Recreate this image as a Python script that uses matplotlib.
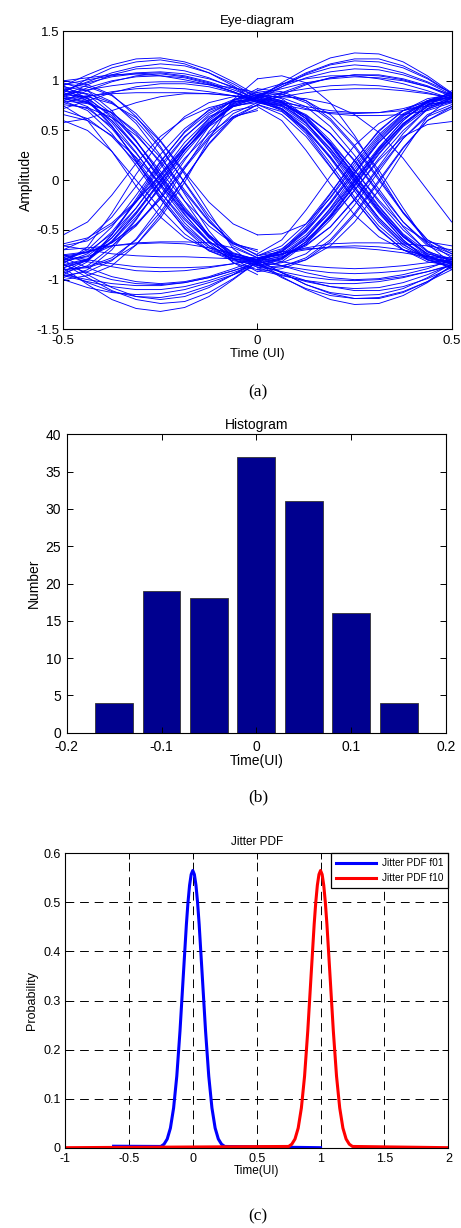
import numpy as np
import matplotlib
matplotlib.use('Agg')
import matplotlib.pyplot as plt

plt.rcParams['font.family'] = ['Liberation Sans', 'DejaVu Sans']

#--------------------------------------#
# (a) eye diagram, traces, 9 samples per half UI
t_left = [-0.5, -0.4375, -0.375, -0.3125, -0.25, -0.1875, -0.125, -0.0625, 0.0]
t_right = [0.0, 0.0625, 0.125, 0.1875, 0.25, 0.3125, 0.375, 0.4375, 0.5]

left_falling = [
    [0.85, 0.79, 0.60, 0.34, 0.03, -0.29, -0.55, -0.74, -0.80],
    [0.95, 0.82, 0.55, 0.19, -0.18, -0.49, -0.71, -0.81, -0.85],
    [0.80, 0.77, 0.68, 0.49, 0.23, -0.10, -0.41, -0.64, -0.75],
    [0.90, 0.83, 0.63, 0.34, 0.00, -0.34, -0.63, -0.83, -0.90],
    [0.70, 0.62, 0.44, 0.18, -0.12, -0.40, -0.62, -0.76, -0.80],
    [1.00, 0.96, 0.86, 0.64, 0.34, -0.03, -0.39, -0.66, -0.78],
    [0.60, 0.50, 0.29, 0.00, -0.29, -0.54, -0.71, -0.79, -0.82],
    [0.88, 0.82, 0.65, 0.39, 0.09, -0.21, -0.46, -0.64, -0.70],
    [0.82, 0.78, 0.68, 0.47, 0.17, -0.21, -0.56, -0.83, -0.95],
    [0.92, 0.80, 0.54, 0.20, -0.16, -0.46, -0.66, -0.77, -0.80],
    [0.78, 0.72, 0.54, 0.27, -0.04, -0.35, -0.61, -0.79, -0.85],
    [0.97, 0.94, 0.85, 0.67, 0.40, 0.08, -0.22, -0.44, -0.55],
    [0.86, 0.84, 0.77, 0.63, 0.39, 0.06, -0.32, -0.69, -0.88],
    [0.75, 0.60, 0.29, -0.06, -0.37, -0.58, -0.70, -0.77, -0.78],
    [0.84, 0.78, 0.60, 0.33, 0.01, -0.31, -0.57, -0.76, -0.82],
    [0.94, 0.90, 0.79, 0.57, 0.25, -0.14, -0.51, -0.79, -0.92],
    [0.88, 0.80, 0.58, 0.28, -0.06, -0.38, -0.62, -0.77, -0.82],
    [0.76, 0.73, 0.63, 0.45, 0.19, -0.12, -0.42, -0.63, -0.72],
    [0.98, 0.90, 0.70, 0.40, 0.05, -0.30, -0.58, -0.76, -0.84],
    [0.83, 0.74, 0.52, 0.22, -0.12, -0.43, -0.66, -0.80, -0.86],
    [0.90, 0.87, 0.78, 0.60, 0.32, -0.02, -0.36, -0.62, -0.76],
    [0.66, 0.60, 0.45, 0.23, -0.04, -0.32, -0.56, -0.73, -0.80],
    [0.93, 0.86, 0.67, 0.39, 0.06, -0.27, -0.55, -0.75, -0.83],
    [0.80, 0.70, 0.47, 0.15, -0.19, -0.48, -0.68, -0.79, -0.83],
]
left_rising = [
    [-0.82, -0.76, -0.58, -0.32, -0.01, 0.30, 0.56, 0.74, 0.80],
    [-0.95, -0.82, -0.55, -0.19, 0.18, 0.49, 0.71, 0.81, 0.85],
    [-0.75, -0.72, -0.63, -0.44, -0.18, 0.14, 0.44, 0.67, 0.78],
    [-0.88, -0.81, -0.62, -0.33, 0.00, 0.33, 0.62, 0.81, 0.88],
    [-0.55, -0.42, -0.15, 0.17, 0.44, 0.62, 0.73, 0.79, 0.80],
    [-1.00, -0.96, -0.86, -0.65, -0.35, 0.02, 0.37, 0.64, 0.76],
    [-0.70, -0.59, -0.37, -0.06, 0.26, 0.52, 0.70, 0.79, 0.82],
    [-0.85, -0.79, -0.62, -0.37, -0.08, 0.22, 0.47, 0.64, 0.70],
    [-0.80, -0.77, -0.66, -0.46, -0.16, 0.20, 0.54, 0.80, 0.92],
    [-0.92, -0.80, -0.55, -0.21, 0.15, 0.44, 0.64, 0.75, 0.78],
    [-0.78, -0.72, -0.54, -0.28, 0.03, 0.34, 0.60, 0.78, 0.84],
    [-0.90, -0.88, -0.80, -0.65, -0.38, -0.02, 0.41, 0.81, 1.02],
    [-0.84, -0.67, -0.33, 0.06, 0.40, 0.64, 0.78, 0.84, 0.86],
    [-0.66, -0.61, -0.45, -0.22, 0.05, 0.31, 0.54, 0.70, 0.75],
    [-0.86, -0.80, -0.61, -0.34, -0.02, 0.30, 0.57, 0.75, 0.82],
    [-0.96, -0.92, -0.81, -0.59, -0.27, 0.12, 0.49, 0.77, 0.90],
    [-0.88, -0.80, -0.58, -0.28, 0.06, 0.38, 0.62, 0.77, 0.82],
    [-0.76, -0.73, -0.63, -0.45, -0.19, 0.12, 0.42, 0.63, 0.72],
    [-0.98, -0.90, -0.70, -0.40, -0.05, 0.30, 0.58, 0.76, 0.84],
    [-0.83, -0.74, -0.52, -0.22, 0.12, 0.43, 0.66, 0.80, 0.86],
    [-0.90, -0.87, -0.78, -0.60, -0.32, 0.02, 0.36, 0.62, 0.76],
    [-0.64, -0.58, -0.43, -0.21, 0.06, 0.34, 0.58, 0.74, 0.80],
    [-0.93, -0.86, -0.67, -0.39, -0.06, 0.27, 0.55, 0.75, 0.83],
    [-0.80, -0.70, -0.47, -0.15, 0.19, 0.48, 0.68, 0.79, 0.83],
]
left_high = [
    [0.95, 1.06, 1.16, 1.22, 1.23, 1.19, 1.11, 0.99, 0.85],
    [0.85, 0.96, 1.06, 1.12, 1.13, 1.10, 1.03, 0.93, 0.80],
    [0.90, 0.98, 1.04, 1.07, 1.08, 1.05, 0.99, 0.91, 0.82],
    [0.80, 0.90, 0.99, 1.05, 1.07, 1.04, 0.98, 0.89, 0.78],
    [0.82, 0.85, 0.87, 0.88, 0.88, 0.88, 0.87, 0.85, 0.82],
    [1.00, 1.03, 1.06, 1.07, 1.05, 1.01, 0.96, 0.89, 0.80],
    [0.86, 0.91, 0.95, 0.98, 0.99, 0.99, 0.96, 0.93, 0.88],
    [0.58, 0.62, 0.70, 0.78, 0.84, 0.87, 0.87, 0.85, 0.80],
    [0.88, 1.02, 1.13, 1.19, 1.21, 1.17, 1.08, 0.95, 0.79],
    [0.84, 0.93, 1.00, 1.04, 1.05, 1.03, 0.97, 0.89, 0.80],
    [0.90, 0.99, 1.08, 1.14, 1.17, 1.15, 1.08, 0.97, 0.83],
    [0.78, 0.84, 0.89, 0.92, 0.93, 0.92, 0.89, 0.85, 0.80],
    [0.96, 1.01, 1.05, 1.08, 1.09, 1.07, 1.02, 0.94, 0.84],
    [0.72, 0.80, 0.88, 0.94, 0.97, 0.97, 0.94, 0.88, 0.80],
]
left_low = [
    [-0.88, -1.05, -1.20, -1.29, -1.32, -1.28, -1.17, -1.00, -0.82],
    [-0.80, -0.95, -1.08, -1.17, -1.20, -1.17, -1.08, -0.95, -0.80],
    [-0.92, -1.03, -1.12, -1.17, -1.18, -1.14, -1.06, -0.95, -0.83],
    [-0.78, -0.88, -0.97, -1.02, -1.04, -1.02, -0.97, -0.89, -0.80],
    [-0.80, -0.72, -0.66, -0.63, -0.62, -0.62, -0.63, -0.68, -0.78],
    [-0.70, -0.68, -0.66, -0.64, -0.63, -0.64, -0.68, -0.74, -0.80],
    [-0.95, -1.00, -1.04, -1.06, -1.06, -1.03, -0.98, -0.91, -0.84],
    [-0.85, -0.93, -1.00, -1.04, -1.05, -1.03, -0.98, -0.91, -0.82],
    [-0.75, -0.80, -0.84, -0.87, -0.88, -0.88, -0.87, -0.84, -0.80],
    [-1.00, -1.08, -1.13, -1.15, -1.14, -1.10, -1.03, -0.95, -0.86],
    [-0.84, -0.98, -1.11, -1.20, -1.24, -1.22, -1.13, -0.99, -0.82],
    [-0.76, -0.82, -0.87, -0.91, -0.92, -0.91, -0.88, -0.84, -0.79],
    [-0.96, -1.02, -1.07, -1.10, -1.10, -1.07, -1.01, -0.93, -0.84],
    [-0.66, -0.70, -0.74, -0.76, -0.77, -0.77, -0.78, -0.79, -0.80],
]
right_falling = [
    [0.82, 0.76, 0.58, 0.32, 0.01, -0.30, -0.56, -0.74, -0.80],
    [0.80, 0.70, 0.47, 0.14, -0.20, -0.50, -0.70, -0.80, -0.84],
    [0.86, 0.83, 0.74, 0.54, 0.25, -0.09, -0.42, -0.66, -0.76],
    [0.78, 0.72, 0.55, 0.29, -0.02, -0.33, -0.60, -0.80, -0.88],
    [1.02, 1.05, 0.98, 0.78, 0.45, 0.06, -0.33, -0.62, -0.78],
    [0.84, 0.79, 0.64, 0.40, 0.10, -0.22, -0.50, -0.71, -0.82],
    [0.76, 0.66, 0.44, 0.13, -0.20, -0.49, -0.70, -0.82, -0.86],
    [0.90, 0.87, 0.78, 0.60, 0.33, 0.00, -0.33, -0.60, -0.72],
    [0.80, 0.74, 0.57, 0.31, 0.00, -0.31, -0.57, -0.74, -0.80],
    [0.88, 0.86, 0.80, 0.66, 0.42, 0.10, -0.28, -0.64, -0.84],
    [0.74, 0.60, 0.30, -0.04, -0.35, -0.57, -0.70, -0.77, -0.78],
    [0.83, 0.78, 0.62, 0.36, 0.05, -0.27, -0.55, -0.75, -0.90],
    [0.80, 0.75, 0.60, 0.38, 0.10, -0.20, -0.46, -0.62, -0.66],
    [0.86, 0.80, 0.62, 0.35, 0.02, -0.32, -0.60, -0.80, -0.88],
    [0.81, 0.77, 0.66, 0.47, 0.19, -0.14, -0.47, -0.72, -0.84],
    [0.79, 0.71, 0.51, 0.22, -0.11, -0.42, -0.65, -0.78, -0.82],
    [0.84, 0.84, 0.82, 0.77, 0.66, 0.48, 0.22, -0.10, -0.42],
    [0.86, 0.79, 0.58, 0.28, -0.06, -0.38, -0.62, -0.78, -0.84],
    [0.78, 0.75, 0.65, 0.47, 0.20, -0.12, -0.42, -0.64, -0.74],
    [0.80, 0.72, 0.52, 0.24, -0.08, -0.40, -0.64, -0.80, -0.86],
    [0.84, 0.78, 0.62, 0.37, 0.06, -0.26, -0.54, -0.72, -0.79],
    [0.92, 0.89, 0.80, 0.62, 0.35, 0.02, -0.32, -0.60, -0.74],
    [0.76, 0.69, 0.50, 0.23, -0.08, -0.38, -0.62, -0.76, -0.80],
    [0.88, 0.82, 0.64, 0.37, 0.04, -0.29, -0.57, -0.76, -0.85],
    [0.82, 0.72, 0.49, 0.17, -0.17, -0.46, -0.67, -0.79, -0.83],
]
right_rising = [
    [-0.82, -0.76, -0.58, -0.32, -0.01, 0.30, 0.56, 0.74, 0.80],
    [-0.55, -0.54, -0.44, -0.18, 0.14, 0.44, 0.66, 0.79, 0.84],
    [-0.86, -0.83, -0.74, -0.54, -0.25, 0.09, 0.42, 0.66, 0.76],
    [-0.80, -0.70, -0.47, -0.14, 0.20, 0.50, 0.70, 0.80, 0.84],
    [-0.78, -0.72, -0.55, -0.29, 0.02, 0.33, 0.60, 0.80, 0.88],
    [-0.90, -0.87, -0.78, -0.60, -0.33, 0.00, 0.33, 0.60, 0.72],
    [-0.76, -0.66, -0.44, -0.13, 0.20, 0.49, 0.70, 0.82, 0.86],
    [-0.84, -0.79, -0.64, -0.40, -0.10, 0.22, 0.50, 0.71, 0.82],
    [-0.80, -0.74, -0.57, -0.31, 0.00, 0.31, 0.57, 0.74, 0.80],
    [-0.88, -0.86, -0.80, -0.66, -0.42, -0.10, 0.28, 0.64, 0.84],
    [-0.74, -0.60, -0.30, 0.04, 0.35, 0.57, 0.70, 0.77, 0.78],
    [-0.83, -0.78, -0.62, -0.36, -0.05, 0.27, 0.55, 0.75, 0.90],
    [-0.80, -0.75, -0.60, -0.38, -0.10, 0.20, 0.44, 0.56, 0.59],
    [-0.86, -0.80, -0.62, -0.35, -0.02, 0.32, 0.60, 0.80, 0.88],
    [-0.81, -0.77, -0.66, -0.47, -0.19, 0.14, 0.47, 0.72, 0.84],
    [-0.79, -0.71, -0.51, -0.22, 0.11, 0.42, 0.65, 0.78, 0.82],
    [-0.86, -0.79, -0.58, -0.28, 0.06, 0.38, 0.62, 0.78, 0.84],
    [-0.78, -0.75, -0.65, -0.47, -0.20, 0.12, 0.42, 0.64, 0.74],
    [-0.80, -0.72, -0.52, -0.24, 0.08, 0.40, 0.64, 0.80, 0.86],
    [-0.84, -0.78, -0.62, -0.37, -0.06, 0.26, 0.54, 0.72, 0.79],
    [-0.92, -0.89, -0.80, -0.62, -0.35, -0.02, 0.32, 0.60, 0.74],
    [-0.76, -0.69, -0.50, -0.23, 0.08, 0.38, 0.62, 0.76, 0.80],
    [-0.88, -0.82, -0.64, -0.37, -0.04, 0.29, 0.57, 0.76, 0.85],
    [-0.82, -0.72, -0.49, -0.17, 0.17, 0.46, 0.67, 0.79, 0.83],
]
right_high = [
    [0.82, 0.98, 1.12, 1.23, 1.28, 1.27, 1.19, 1.05, 0.88],
    [0.80, 0.94, 1.07, 1.16, 1.20, 1.19, 1.13, 1.02, 0.87],
    [0.84, 0.94, 1.03, 1.09, 1.12, 1.11, 1.06, 0.98, 0.86],
    [0.78, 0.88, 0.97, 1.03, 1.06, 1.05, 1.01, 0.94, 0.84],
    [0.80, 0.76, 0.71, 0.68, 0.67, 0.68, 0.72, 0.79, 0.86],
    [0.86, 0.80, 0.72, 0.67, 0.65, 0.65, 0.66, 0.70, 0.78],
    [0.83, 0.88, 0.92, 0.95, 0.96, 0.95, 0.92, 0.88, 0.82],
    [0.90, 0.97, 1.02, 1.05, 1.05, 1.02, 0.97, 0.90, 0.82],
    [0.76, 0.86, 0.96, 1.03, 1.06, 1.06, 1.02, 0.95, 0.85],
    [0.85, 0.96, 1.06, 1.13, 1.16, 1.14, 1.08, 0.99, 0.88],
    [0.84, 0.96, 1.08, 1.17, 1.22, 1.22, 1.15, 1.03, 0.87],
    [0.80, 0.84, 0.88, 0.91, 0.92, 0.92, 0.90, 0.87, 0.83],
    [0.86, 0.92, 0.98, 1.02, 1.04, 1.03, 1.00, 0.94, 0.86],
    [0.82, 0.78, 0.74, 0.70, 0.68, 0.68, 0.70, 0.75, 0.82],
]
right_low = [
    [-0.82, -0.97, -1.10, -1.20, -1.25, -1.24, -1.16, -1.03, -0.86],
    [-0.80, -0.93, -1.05, -1.13, -1.16, -1.15, -1.09, -0.98, -0.84],
    [-0.84, -0.93, -1.01, -1.07, -1.09, -1.08, -1.03, -0.95, -0.85],
    [-0.78, -0.86, -0.93, -0.98, -1.00, -0.99, -0.95, -0.89, -0.80],
    [-0.80, -0.74, -0.68, -0.64, -0.63, -0.63, -0.64, -0.66, -0.70],
    [-0.76, -0.72, -0.69, -0.68, -0.68, -0.70, -0.73, -0.77, -0.82],
    [-0.86, -0.92, -0.97, -1.00, -1.01, -1.00, -0.97, -0.92, -0.86],
    [-0.90, -0.96, -1.01, -1.04, -1.04, -1.02, -0.98, -0.92, -0.85],
    [-0.78, -0.82, -0.86, -0.88, -0.89, -0.88, -0.86, -0.83, -0.80],
    [-0.84, -0.98, -1.09, -1.16, -1.19, -1.18, -1.12, -1.02, -0.90],
    [-0.80, -0.93, -1.05, -1.14, -1.19, -1.19, -1.13, -1.02, -0.86],
    [-0.82, -0.86, -0.90, -0.93, -0.94, -0.93, -0.91, -0.87, -0.82],
    [-0.88, -0.95, -1.02, -1.07, -1.11, -1.11, -1.07, -0.99, -0.88],
    [-0.78, -0.74, -0.70, -0.67, -0.66, -0.67, -0.70, -0.76, -0.84],
]

# (b) histogram
hist_centers = [-0.15, -0.10, -0.05, 0.0, 0.05, 0.10, 0.15]
hist_counts = [4, 19, 18, 37, 31, 16, 4]

# (c) jitter pdf
pdf_values = [0.0025, 0.0071, 0.0177, 0.040, 0.081, 0.146, 0.238, 0.347, 0.455, 0.500, 0.535,
              0.557, 0.565, 0.557, 0.535, 0.500, 0.455, 0.347, 0.238, 0.146, 0.081, 0.040,
              0.0177, 0.0071, 0.0025]
t_f01 = [-0.25, -0.225, -0.2, -0.175, -0.15, -0.125, -0.1, -0.075, -0.05, -0.0375, -0.025,
         -0.0125, 0.0, 0.0125, 0.025, 0.0375, 0.05, 0.075, 0.1, 0.125, 0.15, 0.175, 0.2,
         0.225, 0.25]
t_f10 = [0.75, 0.775, 0.8, 0.825, 0.85, 0.875, 0.9, 0.925, 0.95, 0.9625, 0.975,
         0.9875, 1.0, 1.0125, 1.025, 1.0375, 1.05, 1.075, 1.1, 1.125, 1.15, 1.175, 1.2,
         1.225, 1.25]


def matlab_axes(ax, fs, xpad=4, ypad=3):
    ax.tick_params(direction='in', top=True, right=True, length=4, width=0.7,
                   labelsize=fs)
    ax.tick_params(axis='x', pad=xpad)
    ax.tick_params(axis='y', pad=ypad)
    for s in ax.spines.values():
        s.set_linewidth(0.8)


fig = plt.figure(figsize=(4.61, 12.28), dpi=100)

# ---- (a) ----
ax1 = fig.add_axes([0.1373, 0.7318, 0.8425, 0.2429])
for seg in left_falling + left_rising + left_high + left_low:
    ax1.plot(t_left, seg, color='#0000FF', lw=0.65)
for seg in right_falling + right_rising + right_high + right_low:
    ax1.plot(t_right, seg, color='#0000FF', lw=0.65)
ax1.set_xlim(-0.5, 0.5)
ax1.set_ylim(-1.5, 1.5)
ax1.set_xticks([-0.5, 0, 0.5])
ax1.set_xticklabels(['-0.5', '0', '0.5'])
ax1.set_yticks([-1.5, -1, -0.5, 0, 0.5, 1, 1.5])
ax1.set_yticklabels(['-1.5', '-1', '-0.5', '0', '0.5', '1', '1.5'])
matlab_axes(ax1, 9.5)
ax1.set_title('Eye-diagram', fontsize=9.5, pad=5)
ax1.set_xlabel('Time (UI)', fontsize=9.5, labelpad=1)
ax1.set_ylabel('Amplitude', fontsize=10, labelpad=2)
fig.text(0.56, 1 - 392 / 1228, '(a)', family='Liberation Serif', fontsize=12.5,
         ha='center', va='center')

# ---- (b) ----
ax2 = fig.add_axes([0.1447, 0.4033, 0.8228, 0.2430])
ax2.bar(hist_centers, hist_counts, width=0.04, color='#00008F', edgecolor='#333333',
        linewidth=0.6)
ax2.set_xlim(-0.2, 0.2)
ax2.set_ylim(0, 40)
ax2.set_xticks([-0.2, -0.1, 0, 0.1, 0.2])
ax2.set_xticklabels(['-0.2', '-0.1', '0', '0.1', '0.2'])
ax2.set_yticks(range(0, 41, 5))
matlab_axes(ax2, 10, xpad=5, ypad=4)
ax2.set_title('Histogram', fontsize=10, pad=4)
ax2.set_xlabel('Time(UI)', fontsize=10, labelpad=0)
ax2.set_ylabel('Number', fontsize=10, labelpad=3)
fig.text(0.56, 1 - 797 / 1228, '(b)', family='Liberation Serif', fontsize=12.5,
         ha='center', va='center')

# ---- (c) ----
ax3 = fig.add_axes([0.141, 0.0654, 0.8315, 0.2397])
ax3.plot([-0.62] + t_f01 + [1.0], [0.003] + pdf_values + [0.0], color='#0000FF', lw=2.2,
         label='Jitter PDF f01')
ax3.plot([-1.0] + t_f10 + [2.0], [0.0] + pdf_values + [0.0], color='#FF0000', lw=2.2,
         label='Jitter PDF f10')
ax3.set_xlim(-1, 2)
ax3.set_ylim(0, 0.6)
ax3.set_xticks([-1, -0.5, 0, 0.5, 1, 1.5, 2])
ax3.set_xticklabels(['-1', '-0.5', '0', '0.5', '1', '1.5', '2'])
ax3.set_yticks([0, 0.1, 0.2, 0.3, 0.4, 0.5, 0.6])
ax3.set_yticklabels(['0', '0.1', '0.2', '0.3', '0.4', '0.5', '0.6'])
ax3.grid(True, color='black', linestyle=(0, (9, 6)), linewidth=0.7)
ax3.set_axisbelow(True)
matlab_axes(ax3, 9)
ax3.set_title('Jitter PDF', fontsize=8.5, pad=6)
ax3.set_xlabel('Time(UI)', fontsize=8.5, labelpad=0)
ax3.set_ylabel('Probability', fontsize=9, labelpad=4)
leg = ax3.legend(loc='upper right', fontsize=7.2, borderaxespad=0, fancybox=False,
                 framealpha=1, edgecolor='black', handlelength=4, handletextpad=0.6,
                 borderpad=0.5, labelspacing=0.5)
leg.get_frame().set_linewidth(0.9)
fig.text(0.56, 1 - 1216 / 1228, '(c)', family='Liberation Serif', fontsize=12.5,
         ha='center', va='center')

fig.savefig('out.png', dpi=100)
